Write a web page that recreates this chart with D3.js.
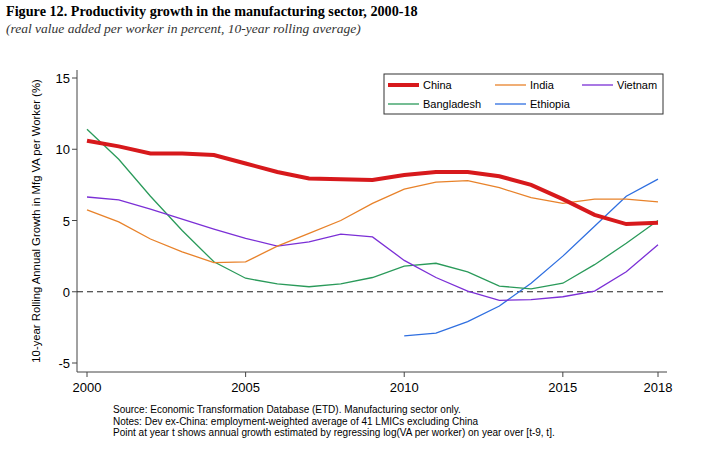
<!DOCTYPE html>
<html><head><meta charset="utf-8">
<script src="https://d3js.org/d3.v7.min.js"></script>
<style>body{margin:0;background:#fff}</style>
</head><body><div id="chart"></div>
<script>
const years = d3.range(2000, 2019)
const china = [10.6,10.2,9.7,9.7,9.6,9.0,8.4,7.95,7.9,7.85,8.2,8.4,8.4,8.1,7.5,6.5,5.4,4.75,4.85]
const india = [5.75,4.9,3.7,2.8,2.05,2.1,3.2,4.1,5.0,6.2,7.2,7.7,7.8,7.3,6.6,6.2,6.5,6.5,6.3]
const vietnam = [6.65,6.45,5.8,5.1,4.4,3.75,3.2,3.5,4.05,3.85,2.2,1.0,0.05,-0.6,-0.55,-0.35,0.05,1.4,3.3]
const bangladesh = [11.4,9.3,6.7,4.3,2.1,0.95,0.55,0.35,0.55,1.0,1.8,2.0,1.4,0.4,0.2,0.6,1.9,3.4,5.0]
const ethiopia = [null,null,null,null,null,null,null,null,null,null,-3.1,-2.9,-2.1,-1.0,0.6,2.5,4.6,6.7,7.9]
const xTicks = [2000, 2005, 2010, 2015, 2018]
const yTicks = [-5, 0, 5, 10, 15]

const series = [
  {name: "China", values: china, color: "#d7191c", width: 4},
  {name: "India", values: india, color: "#e8822a", width: 1.3},
  {name: "Vietnam", values: vietnam, color: "#7b2fd6", width: 1.3},
  {name: "Bangladesh", values: bangladesh, color: "#2a9a5a", width: 1.3},
  {name: "Ethiopia", values: ethiopia, color: "#2f6fe0", width: 1.3}
]

const svg = d3.select("#chart").append("svg").attr("width", 712).attr("height", 456)
  .style("font-family", "Liberation Sans, Arial, sans-serif")

svg.append("text").attr("x", 6).attr("y", 16)
  .style("font-family", "Liberation Serif, serif").style("font-weight", "bold").style("font-size", "14.2px")
  .text("Figure 12. Productivity growth in the manufacturing sector, 2000-18")
svg.append("text").attr("x", 6).attr("y", 33)
  .style("font-family", "Liberation Serif, serif").style("font-style", "italic").style("font-size", "13.5px").attr("fill", "#333")
  .text("(real value added per worker in percent, 10-year rolling average)")

let x = d3.scaleLinear().domain([2000, 2018]).range([87, 658])
let y = d3.scaleLinear().domain([-5, 15]).range([363, 78])
const axisL = 77, axisB = 372

svg.append("line").attr("x1", axisL).attr("x2", axisL).attr("y1", 70).attr("y2", axisB).attr("stroke", "#444")
svg.append("line").attr("x1", axisL).attr("x2", 667).attr("y1", axisB).attr("y2", axisB).attr("stroke", "#444")

yTicks.forEach(t => {
  svg.append("line").attr("x1", axisL - 5).attr("x2", axisL).attr("y1", y(t)).attr("y2", y(t)).attr("stroke", "#444")
  svg.append("text").attr("x", axisL - 7).attr("y", y(t) + 5).attr("text-anchor", "end")
    .style("font-size", "13px").text(t)
})
xTicks.forEach(t => {
  svg.append("line").attr("x1", x(t)).attr("x2", x(t)).attr("y1", axisB).attr("y2", axisB + 5).attr("stroke", "#444")
  svg.append("text").attr("x", x(t)).attr("y", axisB + 20).attr("text-anchor", "middle")
    .style("font-size", "13px").text(t)
})
svg.append("text").attr("transform", `translate(40, ${(70 + axisB) / 2}) rotate(-90)`)
  .attr("text-anchor", "middle").style("font-size", "11.3px")
  .text("10-year Rolling Annual Growth in Mfg VA per Worker (%)")

svg.append("line").attr("x1", axisL).attr("x2", 667).attr("y1", y(0)).attr("y2", y(0))
  .attr("stroke", "#222").attr("stroke-dasharray", "6,4")

let line = d3.line().defined(d => d[1] != null).x(d => x(d[0])).y(d => y(d[1]))
series.slice().reverse().forEach(s => {
  svg.append("path").datum(years.map((yr, i) => [yr, s.values[i]]))
    .attr("d", line).attr("fill", "none").attr("stroke", s.color).attr("stroke-width", s.width)
})

// legend
const legendX = [388, 495, 582]
let lg = svg.append("g")
lg.append("rect").attr("x", 384).attr("y", 74).attr("width", 279).attr("height", 40)
  .attr("fill", "#fff").attr("stroke", "#333")
series.forEach((s, i) => {
  let col = i % 3, row = Math.floor(i / 3)
  let lx = legendX[col], ly = 85 + row * 19
  lg.append("line").attr("x1", lx).attr("x2", lx + 31).attr("y1", ly).attr("y2", ly)
    .attr("stroke", s.color).attr("stroke-width", s.width)
  lg.append("text").attr("x", lx + 35).attr("y", ly + 4).style("font-size", "11px").text(s.name)
})

const notes = ["Source: Economic Transformation Database (ETD). Manufacturing sector only.",
  "Notes: Dev ex-China: employment-weighted average of 41 LMICs excluding China",
  "Point at year t shows annual growth estimated by regressing log(VA per worker) on year over [t-9, t]."]
notes.forEach((n, i) => {
  svg.append("text").attr("x", 113).attr("y", 413 + i * 11.5).style("font-size", "10px").text(n)
})
</script></body></html>
